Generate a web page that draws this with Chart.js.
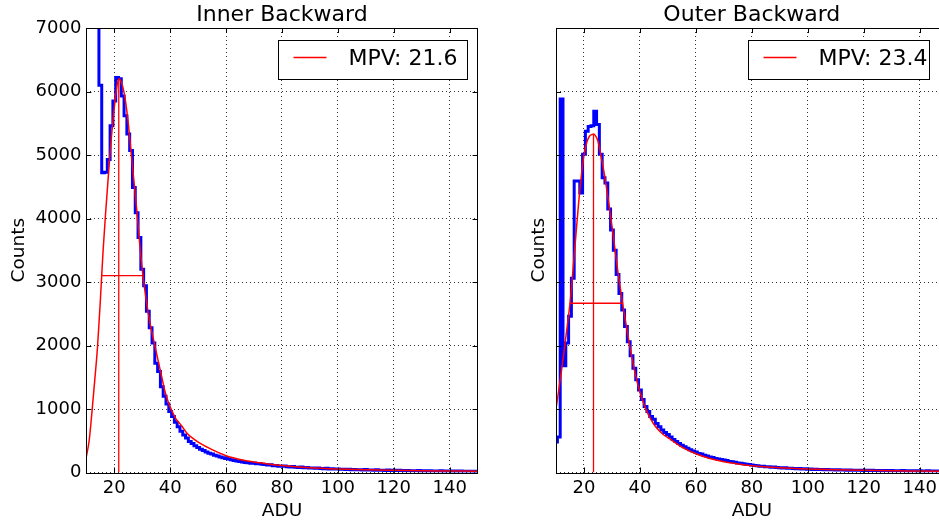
<!DOCTYPE html>
<html>
<head>
<meta charset="utf-8">
<script src="https://cdn.jsdelivr.net/npm/chart.js@4.4.1/dist/chart.umd.min.js"></script>
<style>
  html, body { margin: 0; padding: 0; background: #fff; overflow: hidden; width: 939px; height: 526px; position: relative; }
  canvas { position: absolute; top: 0; }
  #inner { left: 0; }
  #outer { left: 480px; }
</style>
</head>
<body>
<canvas id="inner" width="480" height="526"></canvas>
<canvas id="outer" width="480" height="526"></canvas>
<script>
// ---- axis ticks ----
const xTicks = [20, 40, 60, 80, 100, 120, 140];
const yTicks = [0, 1000, 2000, 3000, 4000, 5000, 6000, 7000];

// ---- histograms: one count per 1-ADU bin, first bin centred at binStart ----
const binStart = 9;
const innerCounts = [
  26000, 21000, 15000, 11000, 8600, 7400, 6100, 4720, 4730, 4930,
  5460, 5850, 6220, 6200, 5930, 5620, 5330, 5070, 4490, 4090,
  3700, 3200, 2940, 2540, 2280, 2040, 1720, 1590, 1350, 1200,
  1080, 960, 880, 790, 720, 650, 590, 545, 490, 455,
  420, 395, 365, 345, 322, 305, 290, 272, 258, 244,
  232, 222, 212, 200, 190, 182, 172, 165, 158, 152,
  146, 150, 138, 142, 128, 125, 118, 122, 108, 112,
  100, 98, 104, 92, 88, 95, 82, 80, 86, 74,
  78, 70, 72, 66, 70, 62, 60, 66, 56, 58,
  54, 56, 50, 52, 48, 50, 44, 48, 42, 45,
  40, 46, 38, 40, 36, 42, 35, 37, 33, 38,
  32, 34, 30, 35, 30, 28, 32, 27, 29, 26,
  30, 25, 27, 24, 28, 23, 25, 22, 26, 21,
  24, 22, 20, 23, 19, 22, 20, 18, 21, 19,
  17, 20
];
const outerCounts = [
  450, 480, 560, 5880, 1680, 2040, 2460, 3060, 4590, 4590,
  4400, 5010, 5375, 5450, 5460, 5690, 5480, 5010, 4640, 4560,
  4150, 3820, 3500, 3120, 2820, 2560, 2300, 2060, 1840, 1640,
  1460, 1300, 1150, 1040, 960, 880, 840, 770, 720, 670,
  630, 600, 560, 520, 490, 455, 430, 405, 380, 360,
  340, 322, 300, 290, 272, 260, 246, 236, 222, 214,
  204, 196, 188, 175, 168, 160, 150, 146, 136, 130,
  126, 118, 112, 108, 100, 98, 92, 90, 84, 86,
  78, 76, 72, 74, 66, 68, 62, 60, 62, 56,
  58, 52, 54, 49, 50, 46, 48, 44, 46, 42,
  44, 40, 42, 38, 40, 36, 39, 35, 37, 34,
  36, 33, 35, 31, 34, 30, 33, 29, 31, 30,
  28, 31, 27, 29, 26, 30, 27, 25, 28, 26,
  24, 27, 25, 23, 26, 24, 22, 25, 23, 21,
  24, 22
];

// ---- fitted Landau curves ----
const innerFitX = [10, 11, 12, 13, 14, 15, 16, 17, 18, 19, 20, 21, 21.6, 22, 23, 24, 25, 26, 27, 28, 29, 30, 31, 32, 33, 34, 35, 36, 37, 38, 39, 40, 42, 44, 46, 48, 50, 55, 60, 65, 70, 75, 80, 90, 100, 110, 120, 130, 140, 150];
const innerFitY = [250, 500, 950, 1450, 1980, 2700, 3500, 4150, 4750, 5300, 5750, 6100, 6200, 6190, 6080, 5850, 5500, 5050, 4600, 4150, 3650, 3200, 2850, 2550, 2300, 2100, 1900, 1700, 1500, 1300, 1150, 1030, 850, 740, 620, 540, 480, 360, 265, 205, 165, 135, 110, 75, 55, 42, 34, 28, 24, 20];
const outerFitX = [10, 11, 12, 13, 14, 15, 16, 17, 18, 19, 20, 21, 22, 23, 23.4, 24, 25, 26, 27, 28, 29, 30, 31, 32, 33, 34, 35, 36, 37, 38, 39, 40, 41, 42, 44, 46, 48, 50, 55, 60, 65, 70, 75, 80, 90, 100, 110, 120, 130, 140, 150];
const outerFitY = [1000, 1300, 1620, 1950, 2300, 2665, 3150, 3680, 4200, 4650, 5000, 5200, 5300, 5325, 5330, 5310, 5220, 5000, 4770, 4500, 4200, 3880, 3540, 3200, 2900, 2610, 2340, 2080, 1840, 1620, 1430, 1270, 1130, 1010, 830, 700, 610, 550, 400, 295, 220, 170, 135, 108, 75, 55, 42, 34, 28, 24, 20];

// ---- most probable value and half-maximum width of each fit ----
const innerMPV = [21.6, 6200];          // position, peak height
const innerFWHM = [15.5, 30.2, 3100];   // left, right, half height
const outerMPV = [23.4, 5330];
const outerFWHM = [15.0, 33.8, 2665];

Chart.defaults.font.family = "'DejaVu Sans', 'Liberation Sans', sans-serif";
Chart.defaults.color = '#000';

// frame, inward ticks, title and legend box in the classic plotting style
const framePlugin = {
  id: 'frame',
  afterDraw(chart, args, o) {
    const { ctx, chartArea: a, scales: { x, y } } = chart;
    ctx.save();
    ctx.strokeStyle = '#000';
    ctx.lineWidth = 1;
    ctx.beginPath();
    for (const v of xTicks) {
      const px = Math.round(x.getPixelForValue(v)) + 0.5;
      ctx.moveTo(px, a.bottom); ctx.lineTo(px, a.bottom - 5);
      ctx.moveTo(px, a.top); ctx.lineTo(px, a.top + 5);
    }
    for (const v of yTicks) {
      const py = Math.round(y.getPixelForValue(v)) + 0.5;
      ctx.moveTo(a.left, py); ctx.lineTo(a.left + 5, py);
      ctx.moveTo(a.right, py); ctx.lineTo(a.right - 5, py);
    }
    ctx.stroke();
    ctx.strokeRect(Math.round(a.left) + 0.5, Math.round(a.top) + 0.5,
                   Math.round(a.width), Math.round(a.height));

    // title
    ctx.fillStyle = '#000';
    ctx.font = "22px 'DejaVu Sans'";
    ctx.textAlign = 'center';
    ctx.textBaseline = 'alphabetic';
    ctx.fillText(o.title, (a.left + a.right) / 2, 21);

    // legend
    const bx = Math.round(a.left + 192) + 0.5, by = 40.5, bw = o.legendWidth, bh = 39;
    ctx.fillStyle = '#fff';
    ctx.fillRect(bx, by, bw, bh);
    ctx.strokeStyle = '#000';
    ctx.strokeRect(bx, by, bw, bh);
    ctx.strokeStyle = '#ff0000';
    ctx.lineWidth = 1.5;
    ctx.beginPath();
    ctx.moveTo(bx + 15, by + 17); ctx.lineTo(bx + 48, by + 17);
    ctx.stroke();
    ctx.fillStyle = '#000';
    ctx.textAlign = 'left';
    ctx.fillText(o.label, bx + 70, by + 24);
    ctx.restore();
  }
};

function makeChart(id, o) {
  const fit = o.fitX.map((v, i) => ({ x: v, y: o.fitY[i] }));
  const hist = o.counts.map((c, i) => ({ x: binStart + i, y: c }));
  return new Chart(document.getElementById(id), {
    type: 'line',
    data: {
      datasets: [
        { data: fit, borderColor: '#ff0000', borderWidth: 1.5, pointRadius: 0,
          cubicInterpolationMode: 'monotone', clip: 0, order: 0 },
        { data: [{ x: o.mpv[0], y: 0 }, { x: o.mpv[0], y: o.mpv[1] }],
          borderColor: '#ff0000', borderWidth: 1.3, pointRadius: 0, clip: 0, order: 0 },
        { data: [{ x: o.fwhm[0], y: o.fwhm[2] }, { x: o.fwhm[1], y: o.fwhm[2] }],
          borderColor: '#ff0000', borderWidth: 1.3, pointRadius: 0, clip: 0, order: 0 },
        { data: hist, borderColor: '#0000ff', borderWidth: 3, pointRadius: 0,
          stepped: 'middle', clip: 0, order: 1 }
      ]
    },
    options: {
      responsive: false,
      animation: false,
      events: [],
      layout: { padding: { top: 28, right: o.padRight, left: 0, bottom: 0 } },
      plugins: {
        legend: { display: false },
        tooltip: { enabled: false },
        frame: { title: o.title, label: o.label, legendWidth: o.legendWidth }
      },
      scales: {
        x: {
          type: 'linear', min: 10, max: 150,
          afterBuildTicks: s => { s.ticks = xTicks.map(v => ({ value: v })); },
          afterFit: s => { s.height = 53.5; },
          grid: { color: 'rgba(0,0,0,0.8)', lineWidth: 1, drawTicks: false },
          border: { display: false, dash: [1, 3] },
          ticks: { font: { size: 18 }, padding: 5, maxRotation: 0, autoSkip: false,
                   callback: v => String(v) },
          title: { display: true, text: 'ADU', font: { size: 18.5 }, padding: { top: 0, bottom: 3.5 } }
        },
        y: {
          type: 'linear', min: 0, max: 7000,
          afterBuildTicks: s => { s.ticks = yTicks.map(v => ({ value: v })); },
          afterFit: s => { s.width = o.yWidth; },
          grid: { color: 'rgba(0,0,0,0.8)', lineWidth: 1, drawTicks: false },
          border: { display: false, dash: [1, 3] },
          ticks: { display: o.showY, font: { size: 18 }, padding: 5, callback: v => String(v) },
          title: { display: true, text: 'Counts', font: { size: 18.5 }, padding: { top: o.yTitlePad, bottom: 0 } }
        }
      }
    },
    plugins: [framePlugin]
  });
}

makeChart('inner', {
  title: 'Inner Backward', label: 'MPV: 21.6', legendWidth: 189,
  counts: innerCounts, fitX: innerFitX, fitY: innerFitY,
  mpv: innerMPV, fwhm: innerFWHM,
  padRight: 2.4, yWidth: 86.35, showY: true, yTitlePad: 8.4
});
makeChart('outer', {
  title: 'Outer Backward', label: 'MPV: 23.4', legendWidth: 181,
  counts: outerCounts, fitX: outerFitX, fitY: outerFitY,
  mpv: outerMPV, fwhm: outerFWHM,
  padRight: 12.3, yWidth: 76, showY: false, yTitlePad: 48.4
});
</script>
</body>
</html>
